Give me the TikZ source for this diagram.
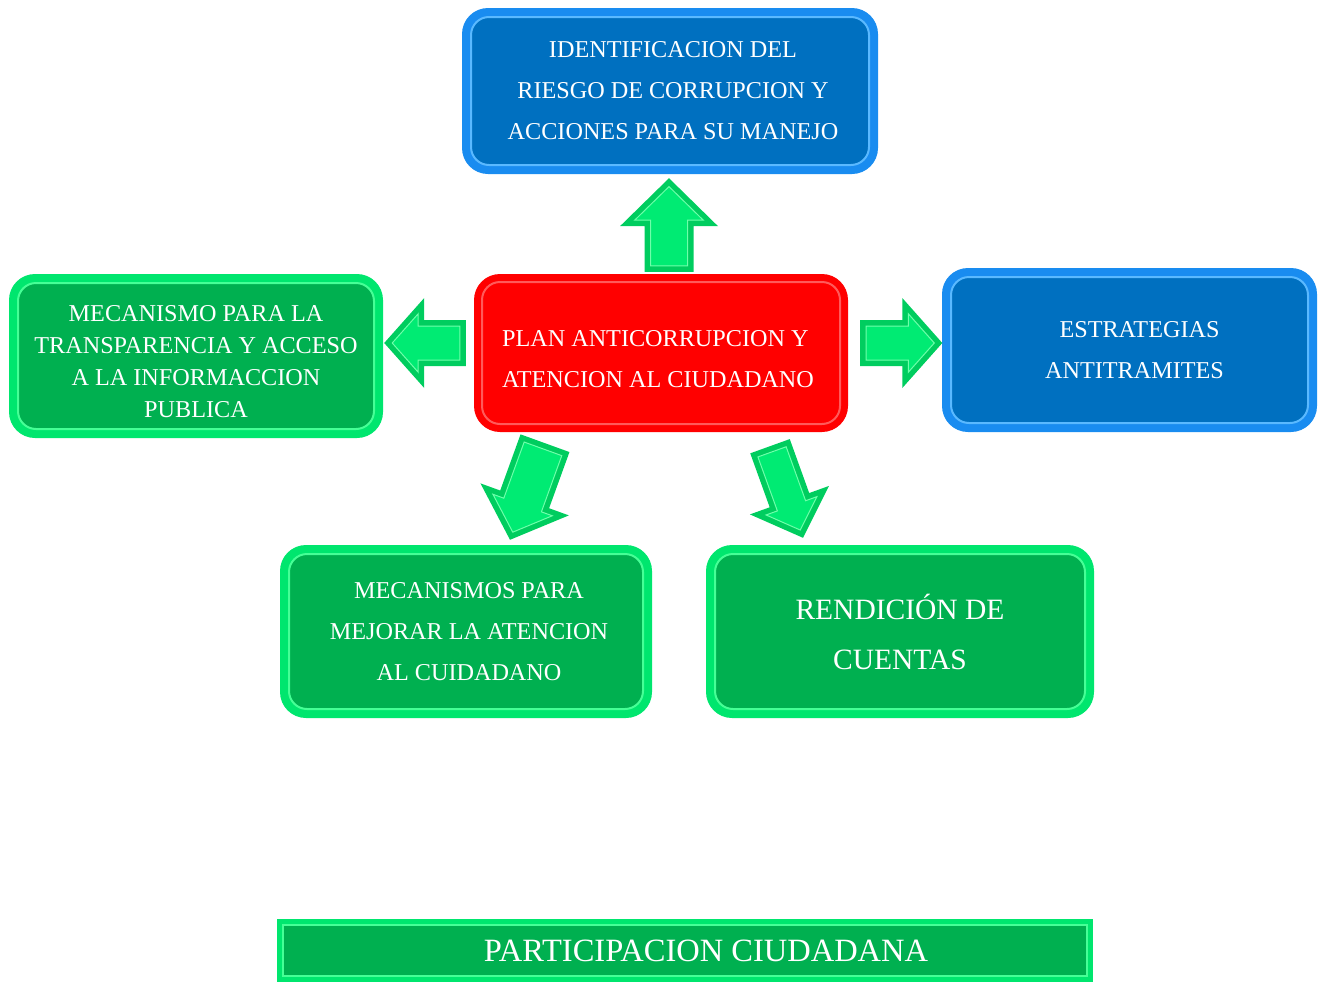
\documentclass[tikz,border=0pt]{standalone}
\usepackage{fontspec}
\setmainfont{Liberation Serif}
\usepackage{graphicx}
\usetikzlibrary{positioning,calc}
\definecolor{blueOuter}{RGB}{25,140,240}
\definecolor{blueMain}{RGB}{0,112,192}
\definecolor{blueLight}{RGB}{90,185,255}
\definecolor{redOuter}{RGB}{255,0,0}
\definecolor{redMain}{RGB}{255,0,0}
\definecolor{redLight}{RGB}{255,90,90}
\definecolor{greenOuter}{RGB}{0,230,110}
\definecolor{greenMain}{RGB}{0,176,80}
\definecolor{greenLight}{RGB}{70,255,150}
\definecolor{arrowEdge}{RGB}{0,205,95}
\definecolor{arrowFace}{RGB}{0,235,115}
\definecolor{arrowLight}{RGB}{110,255,170}
\newcommand{\bevelInset}{6}
\newcommand{\pad}{\hspace*{6pt}}
\newcommand{\lowerText}{\rule{0pt}{28pt}}
\newcommand{\bevelFill}[4]{\filldraw [fill=#1, draw=#2, line width=2pt, rounded corners=#3] ([shift={(#4,-#4)}]path picture bounding box.north west) rectangle ([shift={(-#4,#4)}]path picture bounding box.south east);}
\tikzstyle{pixels} = [x = 1pt, y = -1pt]
\tikzstyle{boxBase} = [text=white, align=center, inner sep=0pt, font=\fontsize{24.2}{41}\selectfont]
\tikzstyle{blueBox} = [boxBase, rounded corners = 26pt, fill=blueOuter, path picture={\bevelFill{blueMain}{blueLight}{18pt}{9pt}}]
\tikzstyle{redBox} = [boxBase, rounded corners = 26pt, fill=redOuter, path picture={\bevelFill{redMain}{redLight}{18pt}{8pt}}]
\tikzstyle{greenBox} = [boxBase, rounded corners = 26pt, fill=greenOuter, path picture={\bevelFill{greenMain}{greenLight}{18pt}{9pt}}]
\tikzstyle{barBox} = [boxBase, fill=greenOuter, path picture={\bevelFill{greenMain}{greenLight}{0pt}{6pt}}]
\newcommand{\arrowShape}[6]{
  \coordinate (headBase) at ($(#3)!#6!(#2)$);
  \filldraw [#1] ($(#2)!#4!90:(#3)$) -- ($(headBase)!#4!90:(#3)$) -- ($(headBase)!#5!90:(#3)$) -- (#3) -- ($(headBase)!#5!-90:(#3)$) -- ($(headBase)!#4!-90:(#3)$) -- ($(#2)!#4!-90:(#3)$) -- cycle;
}
\newcommand{\blockArrow}[5]{
  \pgfmathsetmacro{\tipInset}{\bevelInset / sin(atan(#4 / #5))}
  \pgfmathsetmacro{\innerLength}{#5 - \bevelInset - \tipInset}
  \pgfmathsetmacro{\innerHead}{\innerLength * #4 / #5}
  \pgfmathsetmacro{\innerShaft}{#3 - \bevelInset}
  \arrowShape{fill=arrowEdge, draw=none}{#1}{#2}{#3pt}{#4pt}{#5pt}
  \coordinate (innerStart) at ($(#1)!\bevelInset pt!(#2)$);
  \coordinate (innerEnd) at ($(#2)!\tipInset pt!(#1)$);
  \arrowShape{fill=arrowFace, draw=arrowLight, line width=1pt}{innerStart}{innerEnd}{\innerShaft pt}{\innerHead pt}{\innerLength pt}
}

\begin{document}
\begin{tikzpicture}[pixels]
\useasboundingbox (0,0) rectangle (1318,983);
\node [blueBox, minimum width=416pt, minimum height=166pt] (ident) at (670,91) {\pad IDENTIFICACION DEL\\\pad RIESGO DE CORRUPCION Y\\\pad ACCIONES PARA SU MANEJO};
\node [redBox, align=left, minimum width=374pt, minimum height=158pt] (plan) at (661,353) {\lowerText PLAN ANTICORRUPCION Y\\ATENCION AL CIUDADANO\pad};
\node [greenBox, minimum width=374pt, minimum height=164pt, font=\fontsize{24.2}{32}\selectfont] (transp) at (196,356) {\lowerText MECANISMO PARA LA\\TRANSPARENCIA Y ACCESO\\A LA INFORMACCION\\PUBLICA};
\node [blueBox, minimum width=375pt, minimum height=164pt] (estrat) at (1129.5,350) {\hspace*{20pt}ESTRATEGIAS\\\hspace*{10pt}ANTITRAMITES};
\node [greenBox, minimum width=372pt, minimum height=173pt] (atencion) at (466,631.5) {\pad MECANISMOS PARA\\\pad MEJORAR LA ATENCION\\\pad AL CUIDADANO};
\node [greenBox, minimum width=388pt, minimum height=173pt, font=\fontsize{29.5}{50}\selectfont] (rendicion) at (900,631.5) {RENDICIÓN DE\\CUENTAS};
\node [barBox, minimum width=816pt, minimum height=63pt, font=\fontsize{32.5}{33}\selectfont] (partic) at (685,950.5) {\hspace*{42pt}PARTICIPACION CIUDADANA};
\coordinate (upStart) at ($(plan.north)+(8,-2)$);
\coordinate (upEnd) at ($(ident.south)+(-1,4)$);
\coordinate (leftStart) at ($(plan.west)+(-8,-10)$);
\coordinate (leftEnd) at ($(transp.east)+(1,-13)$);
\coordinate (rightStart) at ($(plan.east)+(12,-10)$);
\coordinate (rightEnd) at ($(estrat.west)+(0.5,-7)$);
\coordinate (downLeftStart) at ($(plan.south)+(-116,11)$);
\coordinate (downLeftEnd) at ($(atencion.north)+(44,-5)$);
\coordinate (downRightStart) at ($(plan.south)+(109,14)$);
\coordinate (downRightEnd) at ($(rendicion.north)+(-97,-7)$);
\blockArrow{upStart}{upEnd}{24.5}{49}{48}
\blockArrow{leftStart}{leftEnd}{23}{45}{40}
\blockArrow{rightStart}{rightEnd}{23}{45}{40}
\blockArrow{downLeftStart}{downLeftEnd}{26}{47}{43}
\blockArrow{downRightStart}{downRightEnd}{21}{42}{40}
\end{tikzpicture}
\end{document}
